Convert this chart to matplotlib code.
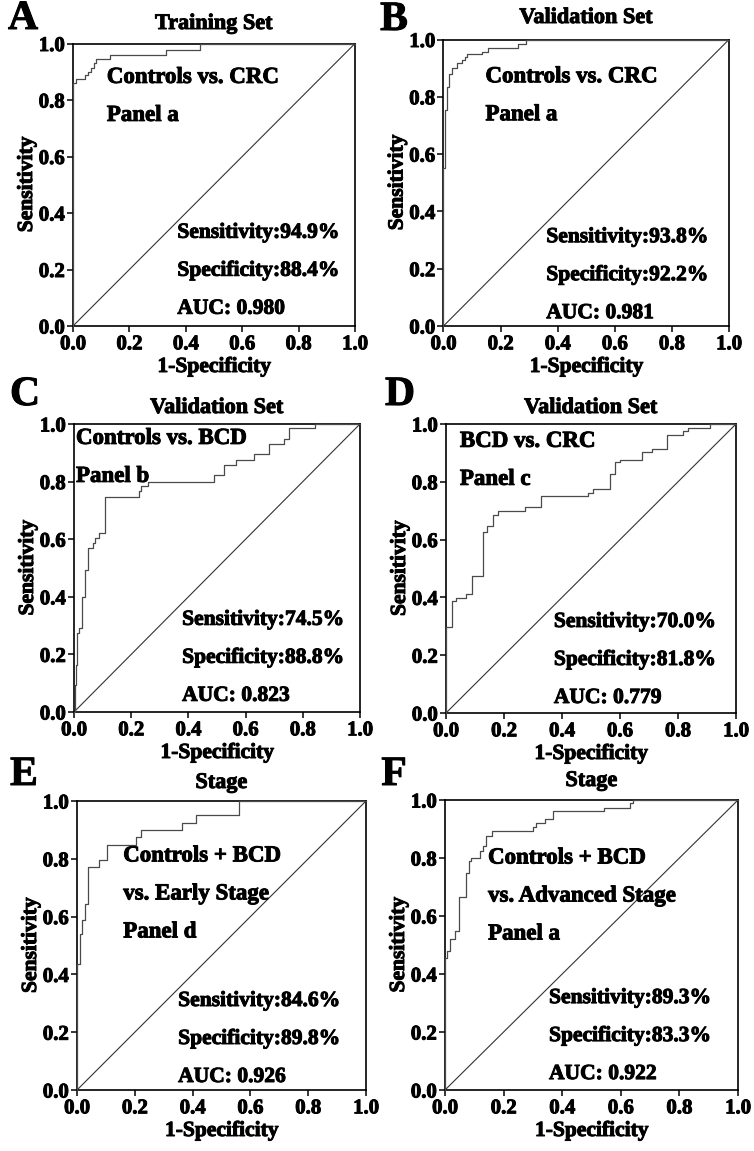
import matplotlib
matplotlib.use("Agg")
import matplotlib.pyplot as plt
import matplotlib.patheffects as pe

# ROC corner points (1-specificity, sensitivity)
fpr_a = [0, 0, 0.012, 0.041, 0.053, 0.065, 0.075, 0.083, 0.13, 0.33, 0.45, 1.0]
tpr_a = [0, 0.861, 0.875, 0.887, 0.90, 0.914, 0.93, 0.946, 0.959, 0.976, 1.0, 1.0]

fpr_b = [0, 0, 0.006, 0.012, 0.021, 0.029, 0.047, 0.064, 0.076, 0.082, 0.134, 0.157, 0.262, 0.29, 1.0]
tpr_b = [0, 0.55, 0.754, 0.835, 0.88, 0.90, 0.917, 0.928, 0.94, 0.95, 0.957, 0.969, 0.984, 1.0, 1.0]

fpr_c = [0, 0.003, 0.007, 0.012, 0.019, 0.029, 0.038, 0.05, 0.065, 0.073, 0.088, 0.108, 0.229, 0.235,
         0.258, 0.49, 0.524, 0.565, 0.629, 0.681, 0.733, 0.75, 0.843, 1.0]
tpr_c = [0, 0.093, 0.162, 0.273, 0.29, 0.40, 0.493, 0.568, 0.586, 0.603, 0.62, 0.746, 0.766, 0.783,
         0.80, 0.824, 0.858, 0.876, 0.896, 0.932, 0.948, 0.986, 1.0, 1.0]

fpr_d = [0, 0, 0.02, 0.034, 0.069, 0.089, 0.126, 0.143, 0.161, 0.18, 0.272, 0.326, 0.491, 0.508,
         0.566, 0.583, 0.60, 0.675, 0.709, 0.763, 0.818, 0.836, 0.91, 1.0]
tpr_d = [0, 0.298, 0.386, 0.398, 0.413, 0.475, 0.625, 0.648, 0.686, 0.70, 0.713, 0.75, 0.761, 0.776,
         0.828, 0.867, 0.877, 0.902, 0.913, 0.963, 0.975, 0.986, 1.0, 1.0]

fpr_e = [0, 0, 0.011, 0.018, 0.028, 0.037, 0.076, 0.105, 0.205, 0.222, 0.363, 0.411, 0.559, 1.0]
tpr_e = [0, 0.435, 0.54, 0.588, 0.644, 0.77, 0.796, 0.848, 0.874, 0.90, 0.925, 0.952, 1.0, 1.0]

fpr_f = [0, 0, 0.007, 0.018, 0.033, 0.048, 0.071, 0.081, 0.09, 0.118, 0.13, 0.141, 0.162, 0.30,
         0.312, 0.34, 0.367, 0.542, 0.631, 0.642, 1.0]
tpr_f = [0, 0.455, 0.481, 0.52, 0.547, 0.667, 0.748, 0.788, 0.80, 0.823, 0.842, 0.877, 0.892, 0.907,
         0.92, 0.934, 0.961, 0.972, 0.99, 1.0, 1.0]

letters = ["A", "B", "C", "D", "E", "F"]
titles = ["Training Set", "Validation Set", "Validation Set", "Validation Set", "Stage", "Stage"]
groups = [["Controls vs. CRC", "Panel a"],
          ["Controls vs. CRC", "Panel a"],
          ["Controls vs. BCD", "Panel b"],
          ["BCD vs. CRC", "Panel c"],
          ["Controls + BCD", "vs. Early Stage", "Panel d"],
          ["Controls + BCD", "vs. Advanced Stage", "Panel a"]]
sens = ["94.9%", "93.8%", "74.5%", "70.0%", "84.6%", "89.3%"]
spec = ["88.4%", "92.2%", "88.8%", "81.8%", "89.8%", "83.3%"]
aucs = ["0.980", "0.981", "0.823", "0.779", "0.926", "0.922"]
curves = [(fpr_a, tpr_a), (fpr_b, tpr_b), (fpr_c, tpr_c),
          (fpr_d, tpr_d), (fpr_e, tpr_e), (fpr_f, tpr_f)]

W, H = 754, 1151
plt.rcParams["font.family"] = ["Liberation Serif", "DejaVu Serif"]
plt.rcParams["font.weight"] = "bold"
fig = plt.figure(figsize=(W / 100, H / 100), dpi=100)

# heavier strokes so the text looks like the scanned Times bold
heavy = [pe.withStroke(linewidth=0.7, foreground="black")]

# axes boxes in pixels: left, top, right, bottom
boxes = [(73, 43.5, 355, 326), (443.5, 39.5, 729, 326),
         (74, 424, 360, 712), (446, 424, 736, 713),
         (77, 801, 366, 1090), (445, 800, 738, 1090)]
letter_pos = [(23, 19), (394, 20), (25, 395), (400, 395), (24, 775), (394, 775)]
title_y = [24, 18, 408, 408, 783, 781]
# group text: x (axes frac), first line y (axes frac)
group_pos = [(0.12, 0.88), (0.147, 0.87), (0.007, 0.95), (0.048, 0.94), (0.16, 0.81), (0.147, 0.80)]
stat_pos = [(0.37, 0.33), (0.36, 0.31), (0.378, 0.32), (0.372, 0.315), (0.35, 0.308), (0.355, 0.317)]


def fx(px):
    return px / W


def fy(py):
    return 1 - py / H


for i, (l, t, r, b) in enumerate(boxes):
    ax = fig.add_axes([fx(l), fy(b), (r - l) / W, (b - t) / H])
    x, y = curves[i]
    ax.plot(x, y, drawstyle="steps-post", color="#4a4a4a", lw=0.9, clip_on=False, zorder=3)
    ax.plot([0, 1], [0, 1], color="#333333", lw=0.8)
    ax.set_xlim(0, 1)
    ax.set_ylim(0, 1)
    ax.set_xticks([0, 0.2, 0.4, 0.6, 0.8, 1.0])
    ax.set_yticks([0, 0.2, 0.4, 0.6, 0.8, 1.0])
    ax.set_xticklabels(["0.0", "0.2", "0.4", "0.6", "0.8", "1.0"])
    ax.set_yticklabels(["0.0", "0.2", "0.4", "0.6", "0.8", "1.0"])
    ax.tick_params(direction="out", length=4, width=1.1, labelsize=15, pad=2)
    for lab in ax.get_xticklabels() + ax.get_yticklabels():
        lab.set_path_effects(heavy)
    for s in ax.spines.values():
        s.set_linewidth(1.2)
    ax.set_xlabel("1-Specificity", fontsize=15.5, fontweight="bold", path_effects=heavy)
    ax.set_ylabel("Sensitivity", fontsize=15.5, fontweight="bold", path_effects=heavy)
    ax.xaxis.set_label_coords(0.5, -31 / (b - t))
    ax.yaxis.set_label_coords(-36 / (r - l), 0.5)

    gx, gy = group_pos[i]
    dy = 38 / (b - t)
    for k, line in enumerate(groups[i]):
        ax.text(gx, gy - k * dy, line, transform=ax.transAxes, fontsize=16.5,
                fontweight="bold", va="center", ha="left", path_effects=heavy)
    sx, sy = stat_pos[i]
    stats = ["Sensitivity:" + sens[i], "Specificity:" + spec[i], "AUC: " + aucs[i]]
    for k, line in enumerate(stats):
        ax.text(sx, sy - k * dy, line, transform=ax.transAxes, fontsize=15.5,
                fontweight="bold", va="center", ha="left", path_effects=heavy)

    fig.text(fx((l + r) / 2), fy(title_y[i]), titles[i], fontsize=16,
             fontweight="bold", ha="center", va="center", path_effects=heavy)
    lx, ly = letter_pos[i]
    fig.text(fx(lx), fy(ly), letters[i], fontsize=30, fontweight="bold",
             ha="center", va="center", path_effects=heavy)

fig.savefig("out.png", dpi=100)
plt.close(fig)
